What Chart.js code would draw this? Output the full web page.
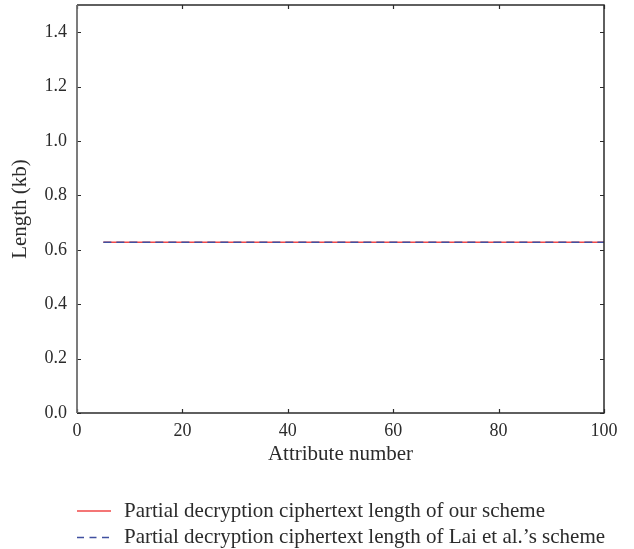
<!DOCTYPE html>
<html>
<head>
<meta charset="utf-8">
<script src="https://cdn.jsdelivr.net/npm/chart.js@4.4.1/dist/chart.umd.min.js"></script>
<style>
  html, body { margin: 0; padding: 0; background: #ffffff; }
  #wrap { width: 634px; height: 549px; position: relative; }
</style>
</head>
<body>
<div id="wrap"><canvas id="lengthChart"></canvas></div>
<script>
/* -------- Data -------- */
const attributeNumbers = [5, 10, 20, 30, 40, 50, 60, 70, 80, 90, 100];
const oursLength = [0.628, 0.628, 0.628, 0.628, 0.628, 0.628, 0.628, 0.628, 0.628, 0.628, 0.628];
const laiLength = [0.628, 0.628, 0.628, 0.628, 0.628, 0.628, 0.628, 0.628, 0.628, 0.628, 0.628];
const xTickValues = [0, 20, 40, 60, 80, 100];
const yTickValues = [0.0, 0.2, 0.4, 0.6, 0.8, 1.0, 1.2, 1.4];

/* -------- Styles -------- */
const FONT_FAMILY = '"Liberation Serif", "Times New Roman", serif';
const TEXT_COLOR = '#2b2b2b';
const TICK_LEN = 4;

/* -------- Frame + inward tick marks on all four sides -------- */
const frameTicks = {
    id: 'frameTicks',
    afterDatasetsDraw(chart) {
        const { ctx, chartArea: a, scales: { x, y } } = chart;
        ctx.save();
        ctx.lineWidth = 1.2;
        ctx.strokeStyle = '#2b2b2b';
        ctx.beginPath();
        x.ticks.forEach(t => {
            const px = Math.round(x.getPixelForValue(t.value)) + 0.5;
            ctx.moveTo(px, a.bottom); ctx.lineTo(px, a.bottom - TICK_LEN);
            ctx.moveTo(px, a.top); ctx.lineTo(px, a.top + TICK_LEN);
        });
        y.ticks.forEach(t => {
            const py = Math.round(y.getPixelForValue(t.value)) + 0.5;
            ctx.moveTo(a.left, py); ctx.lineTo(a.left + TICK_LEN, py);
            ctx.moveTo(a.right, py); ctx.lineTo(a.right - TICK_LEN, py);
        });
        ctx.stroke();

        // top, right, bottom edges
        ctx.lineWidth = 1.5;
        ctx.beginPath();
        ctx.moveTo(a.left, a.top); ctx.lineTo(a.right, a.top);
        ctx.lineTo(a.right, a.bottom); ctx.lineTo(a.left, a.bottom);
        ctx.stroke();

        // left edge is a lighter grey
        ctx.strokeStyle = '#6e6e6e';
        ctx.lineWidth = 1.8;
        ctx.beginPath();
        ctx.moveTo(a.left, a.top); ctx.lineTo(a.left, a.bottom);
        ctx.stroke();
        ctx.restore();
    }
};

/* -------- Legend below the axis title, one row per dataset -------- */
const LEGEND_FIRST_ROW = 98;   // px below the plot bottom
const LEGEND_ROW_STEP = 26.5;
const LEGEND_SWATCH = 34;
const LEGEND_TEXT_GAP = 13;
const LEGEND_DASH = [7, 5.5];

const rowLegend = {
    id: 'rowLegend',
    afterDraw(chart) {
        const { ctx, chartArea: a } = chart;
        ctx.save();
        ctx.font = '21px ' + FONT_FAMILY;
        ctx.textBaseline = 'middle';
        ctx.fillStyle = TEXT_COLOR;
        chart.data.datasets.forEach((ds, i) => {
            const rowY = a.bottom + LEGEND_FIRST_ROW + i * LEGEND_ROW_STEP;
            ctx.strokeStyle = ds.borderColor;
            ctx.lineWidth = ds.borderWidth;
            ctx.setLineDash(ds.borderDash ? LEGEND_DASH : []);
            ctx.beginPath();
            ctx.moveTo(a.left, rowY);
            ctx.lineTo(a.left + LEGEND_SWATCH, rowY);
            ctx.stroke();
            ctx.fillText(ds.label, a.left + LEGEND_SWATCH + LEGEND_TEXT_GAP, rowY);
        });
        ctx.restore();
    }
};

/* -------- Chart -------- */
const ctx = document.getElementById('lengthChart').getContext('2d');

new Chart(ctx, {
    type: 'line',
    data: {
        datasets: [{
            label: 'Partial decryption ciphertext length of our scheme',
            data: attributeNumbers.map((n, i) => ({ x: n, y: oursLength[i] })),
            borderColor: 'rgb(240, 72, 72)',
            backgroundColor: 'rgb(240, 72, 72)',
            borderWidth: 1.6,
            pointRadius: 0,
            order: 1
        }, {
            label: 'Partial decryption ciphertext length of Lai et al.’s scheme',
            data: attributeNumbers.map((n, i) => ({ x: n, y: laiLength[i] })),
            borderColor: 'rgb(64, 80, 160)',
            backgroundColor: 'rgb(64, 80, 160)',
            borderWidth: 1.6,
            borderDash: [8, 5],
            pointRadius: 0,
            order: 0
        }]
    },
    options: {
        responsive: true,
        maintainAspectRatio: false,
        animation: false,
        layout: {
            padding: { top: 5, right: 30, bottom: 54, left: 0 }
        },
        scales: {
            x: {
                type: 'linear',
                min: 0,
                max: 100,
                afterBuildTicks: scale => {
                    scale.ticks = xTickValues.map(v => ({ value: v }));
                },
                afterFit: scale => {
                    scale.height = 82;
                    scale.paddingLeft = 0;
                    scale.paddingRight = 0;
                },
                grid: { display: false, drawTicks: false },
                border: { display: false },
                ticks: {
                    padding: 7,
                    color: TEXT_COLOR,
                    font: { family: FONT_FAMILY, size: 18 },
                    callback: v => String(v)
                },
                title: {
                    display: true,
                    text: 'Attribute number',
                    color: TEXT_COLOR,
                    font: { family: FONT_FAMILY, size: 21 },
                    padding: { top: 0, bottom: 28 }
                }
            },
            y: {
                type: 'linear',
                min: 0,
                max: 1.5,
                afterBuildTicks: scale => {
                    scale.ticks = yTickValues.map(v => ({ value: v }));
                },
                afterFit: scale => {
                    scale.width = 77;
                    scale.paddingTop = 0;
                    scale.paddingBottom = 0;
                },
                grid: { display: false, drawTicks: false },
                border: { display: false },
                ticks: {
                    padding: 10,
                    color: TEXT_COLOR,
                    font: { family: FONT_FAMILY, size: 18 },
                    callback: v => v.toFixed(1)
                },
                title: {
                    display: true,
                    text: 'Length (kb)',
                    color: TEXT_COLOR,
                    font: { family: FONT_FAMILY, size: 21 },
                    padding: { top: 8, bottom: 0 }
                }
            }
        },
        plugins: {
            legend: { display: false },
            tooltip: { enabled: false }
        }
    },
    plugins: [frameTicks, rowLegend]
});
</script>
</body>
</html>
